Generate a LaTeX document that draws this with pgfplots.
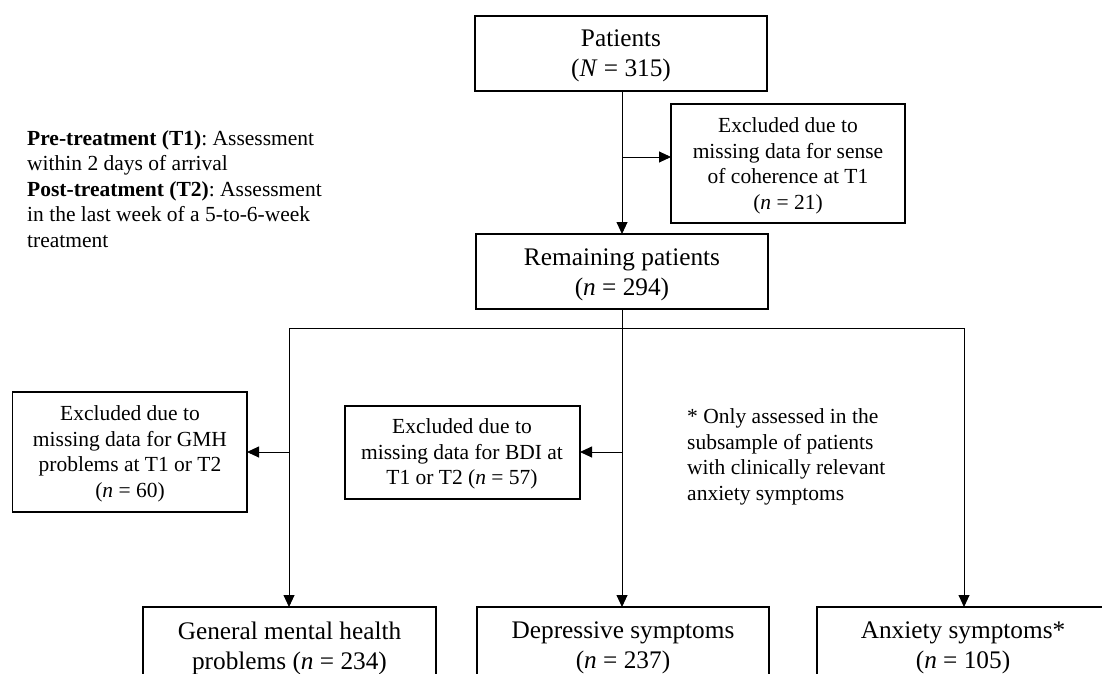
\documentclass[border=0pt]{standalone}
\usepackage{fontspec}
\setmainfont{Liberation Serif}
\usepackage{pgfplots}
\pgfplotsset{compat=1.18}
\usetikzlibrary{arrows.meta}
\frenchspacing
\begin{document}
\begin{tikzpicture}[
  box/.style={draw=black, line width=1.5pt},
  conn/.style={draw=black, line width=0.9pt},
  arr/.style={conn, -{Triangle[length=12pt,width=11pt]}},
  big/.style={font=\fontsize{25.3}{30}\selectfont\frenchspacing, align=center, inner sep=0pt},
  small/.style={font=\fontsize{21.5}{25.5}\selectfont\frenchspacing, align=center, inner sep=0pt},
]
\begin{axis}[width=1102pt,height=674pt,scale only axis,
  xmin=0,xmax=1102,ymin=0,ymax=674,y dir=reverse,hide axis,clip=false]
\addplot[draw=none,forget plot] coordinates {(0,0) (1102,674)};
% connectors
\draw[arr] (axis cs:622,91) -- (axis cs:622,234);
\draw[arr] (axis cs:622,157) -- (axis cs:671,157);
\draw[conn] (axis cs:622,309) -- (axis cs:622,328);
\draw[conn] (axis cs:289,328) -- (axis cs:964,328);
\draw[arr] (axis cs:289,328) -- (axis cs:289,607);
\draw[arr] (axis cs:622,328) -- (axis cs:622,607);
\draw[arr] (axis cs:964,328) -- (axis cs:964,607);
\draw[arr] (axis cs:289,452) -- (axis cs:247,452);
\draw[arr] (axis cs:622,452) -- (axis cs:580,452);
% boxes
\draw[box] (axis cs:475,16) rectangle (axis cs:767,91);
\draw[box] (axis cs:671,104) rectangle (axis cs:905,223);
\draw[box] (axis cs:476,234) rectangle (axis cs:768,309);
\draw[box] (axis cs:12.5,392) rectangle (axis cs:247,512);
\draw[box] (axis cs:345,406) rectangle (axis cs:580,499);
\draw[box] (axis cs:143,680) -- (axis cs:143,607) -- (axis cs:436,607) -- (axis cs:436,680);
\draw[box] (axis cs:477,680) -- (axis cs:477,607) -- (axis cs:769,607) -- (axis cs:769,680);
\draw[box] (axis cs:817,680) -- (axis cs:817,607) -- (axis cs:1110,607);
% texts
\node[big] at (axis cs:621,56) {Patients\\(\textit{N} = 315)};
\node[small] at (axis cs:788,166) {Excluded due to\\missing data for sense\\of coherence at T1\\(\textit{n} = 21)};
\node[big] at (axis cs:622,275) {Remaining patients\\(\textit{n} = 294)};
\node[small] at (axis cs:130,454) {Excluded due to\\missing data for GMH\\problems at T1 or T2\\(\textit{n} = 60)};
\node[small] at (axis cs:462,454) {Excluded due to\\missing data for BDI at\\T1 or T2 (\textit{n} = 57)};
\node[small,align=left,anchor=west] at (axis cs:687,457) {* Only assessed in the\\subsample of patients\\with clinically relevant\\anxiety symptoms};
\node[small,align=left,anchor=west] at (axis cs:27,189) {\textbf{Pre-treatment (T1)}: Assessment\\within 2 days of arrival\\\textbf{Post-treatment (T2)}: Assessment\\in the last week of a 5-to-6-week\\treatment};
\node[big] at (axis cs:289.5,648) {General mental health\\problems (\textit{n} = 234)};
\node[big] at (axis cs:623,648) {Depressive symptoms\\(\textit{n} = 237)};
\node[big] at (axis cs:963,648) {Anxiety symptoms*\\(\textit{n} = 105)};
\end{axis}
\pgfresetboundingbox
\useasboundingbox (current axis.south west) rectangle (current axis.north east);
\end{tikzpicture}
\end{document}
